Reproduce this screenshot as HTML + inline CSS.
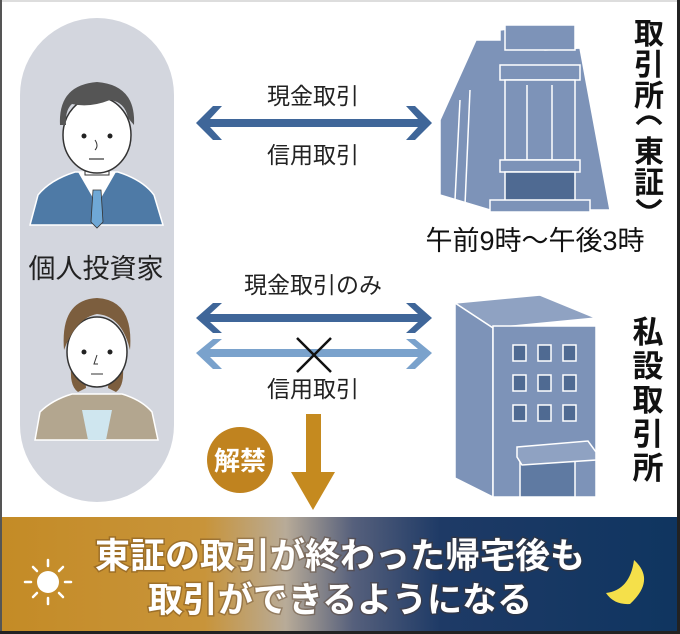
<!DOCTYPE html>
<html><head><meta charset="utf-8"><style>
html,body{margin:0;padding:0;background:#fff}
svg{display:block}
text{font-family:"Liberation Sans","Noto Sans CJK JP",sans-serif}
</style></head><body>
<svg width="680" height="634" viewBox="0 0 680 634" xmlns="http://www.w3.org/2000/svg">
<defs>
<linearGradient id="band" x1="0" x2="1" y1="0" y2="0">
<stop offset="0" stop-color="#c48b26"/>
<stop offset="0.3" stop-color="#c8943a"/>
<stop offset="0.42" stop-color="#b8ab98"/>
<stop offset="0.52" stop-color="#56607c"/>
<stop offset="0.65" stop-color="#1e3a66"/>
<stop offset="1" stop-color="#0f3560"/>
</linearGradient>
</defs>
<rect width="680" height="634" fill="#fff"/>
<rect x="0" y="0" width="680" height="2" fill="#ddd"/>
<rect x="0" y="0" width="2" height="634" fill="#555"/>
<rect x="677" y="0" width="3" height="634" fill="#222"/>
<rect x="20" y="18" width="154" height="484" rx="77" fill="#d3d6de"/>
<g>
<path d="M30 225 L38 195 Q50 180 75 172 L118 172 Q143 180 154 195 L163 225 Z" fill="#4e7aa6" stroke="#fff" stroke-width="1.5"/>
<path d="M78 172 L97 205 L116 172 Z" fill="#fff"/>
<path d="M93 190 L101 190 L103 222 L97 228 L91 222 Z" fill="#6fa8d6" stroke="#333" stroke-width="0.8"/>
<rect x="85" y="155" width="24" height="20" fill="#fff" stroke="#333"/>
<ellipse cx="97" cy="135" rx="34" ry="38" fill="#fff" stroke="#333" stroke-width="1.5"/>
<path d="M60 125 Q58 85 97 82 Q136 85 134 125 L128 118 Q125 102 110 100 Q90 108 72 104 Q65 110 66 125 Z" fill="#555"/>
<circle cx="84" cy="136" r="2.5" fill="#222"/><circle cx="110" cy="136" r="2.5" fill="#222"/>
<path d="M95 140 Q99 146 95 150" fill="none" stroke="#333"/>
<line x1="89" y1="159" x2="104" y2="159" stroke="#333" stroke-width="1.2"/>
</g>
<text x="96" y="278" font-size="27" text-anchor="middle" fill="#222">個人投資家</text>
<g>
<path d="M35 440 L40 412 Q52 400 72 394 L122 394 Q142 400 152 412 L158 440 Z" fill="#b3a68f" stroke="#fff" stroke-width="1.5"/>
<path d="M82 410 L112 410 L106 440 L88 440 Z" fill="#cfe6ef"/>
<path d="M72 360 Q68 385 78 392 L86 388 L84 360 Z M122 360 Q126 385 116 392 L108 388 L110 360 Z" fill="#7c5e3e"/>
<ellipse cx="97" cy="352" rx="30" ry="35" fill="#fff" stroke="#333" stroke-width="1.5"/>
<path d="M64 350 Q60 300 97 298 Q134 300 130 350 Q122 316 97 314 Q76 318 64 350 Z" fill="#7c5e3e"/>
<circle cx="84" cy="352" r="2.5" fill="#222"/><circle cx="110" cy="352" r="2.5" fill="#222"/>
<path d="M97 355 L94 364 L98 364" fill="none" stroke="#333"/>
<line x1="91" y1="374" x2="103" y2="374" stroke="#333"/>
</g>
<text x="313" y="104" font-size="23" text-anchor="middle" fill="#222">現金取引</text>
<path d="M196 123 L213 106 L222 106 L210 119 L418 119 L406 106 L415 106 L432 123 L415 140 L406 140 L418 127 L210 127 L222 140 L213 140 Z" fill="#3f6699"/>
<text x="313" y="163" font-size="23" text-anchor="middle" fill="#222">信用取引</text>
<text x="313" y="293" font-size="23" text-anchor="middle" fill="#222">現金取引のみ</text>
<path d="M196 318 L213 303 L222 303 L210 314 L418 314 L406 303 L415 303 L432 318 L415 333 L406 333 L418 322 L210 322 L222 333 L213 333 Z" fill="#3f6699"/>
<path d="M196 353 L213 339 L222 339 L210 349 L418 349 L406 339 L415 339 L432 353 L415 369 L406 369 L418 357 L210 357 L222 369 L213 369 Z" fill="#7aa2cc"/>
<path d="M297 338 L331 372 M331 338 L297 372" stroke="#111" stroke-width="2.5"/>
<text x="313" y="397" font-size="23" text-anchor="middle" fill="#222">信用取引</text>
<path d="M306 414 L321 414 L321 472 L335 472 L313 510 L291 472 L306 472 Z" fill="#c58a1f"/>
<circle cx="240" cy="460" r="33" fill="#c0831f"/>
<text x="240" y="470" font-size="26" font-weight="bold" text-anchor="middle" fill="#fff">解禁</text>
<g fill="#7d93b8" stroke="#fff" stroke-width="1.5">
<path d="M476 40 L500 40 L500 30 L540 25 L545 50 L580 48 L610 210 L490 210 L440 195 L440 120 Z"/>
<rect x="505" y="25" width="70" height="25"/>
<rect x="500" y="65" width="80" height="15"/>
<rect x="505" y="80" width="70" height="80"/>
<line x1="527" y1="85" x2="527" y2="160"/><line x1="552" y1="85" x2="552" y2="160"/>
<rect x="500" y="160" width="80" height="12"/>
<rect x="505" y="172" width="70" height="30" fill="#4f6a92"/>
<rect x="490" y="200" width="100" height="12"/>
<line x1="460" y1="100" x2="455" y2="200"/><line x1="470" y1="90" x2="465" y2="205"/>
</g>
<g font-size="30" font-weight="bold" fill="#111" text-anchor="middle">
<text x="649" y="44">取</text><text x="649" y="75">引</text><text x="649" y="106">所</text>
<text x="649" y="162">東</text><text x="649" y="193">証</text>
</g>
<path d="M637 124 Q649 110 661 124" fill="none" stroke="#111" stroke-width="3.5"/>
<path d="M637 200 Q649 214 661 200" fill="none" stroke="#111" stroke-width="3.5"/>
<text x="535" y="250" font-size="27" text-anchor="middle" fill="#111">午前9時～午後3時</text>
<g stroke="#fff" stroke-width="1.5">
<path d="M455 303 L540 295 L596 318 L493 328 Z" fill="#8fa2c2"/>
<path d="M455 303 L493 328 L493 497 L455 478 Z" fill="#7d93b8"/>
<rect x="493" y="326" width="103" height="171" fill="#7d93b8"/>
<g fill="#4f6a92">
<rect x="513" y="345" width="13" height="16"/><rect x="538" y="345" width="13" height="16"/><rect x="563" y="345" width="13" height="16"/>
<rect x="513" y="375" width="13" height="16"/><rect x="538" y="375" width="13" height="16"/><rect x="563" y="375" width="13" height="16"/>
<rect x="513" y="405" width="13" height="16"/><rect x="538" y="405" width="13" height="16"/><rect x="563" y="405" width="13" height="16"/>
</g>
<rect x="520" y="460" width="55" height="37" fill="#5f7aa2"/>
<path d="M517 447 L588 441 L596 452 L596 460 L522 465 L517 457 Z" fill="#8fa2c2"/>
</g>
<g font-size="31" font-weight="bold" fill="#111" text-anchor="middle">
<text x="648" y="343">私</text><text x="648" y="377">設</text><text x="648" y="411">取</text><text x="648" y="445">引</text><text x="648" y="479">所</text>
</g>
<rect x="2" y="517" width="675" height="114" fill="url(#band)"/>
<rect x="0" y="631" width="680" height="3" fill="#222"/>
<g stroke="#fff" stroke-width="2.5" stroke-linecap="round">
<line x1="48" y1="566" x2="48" y2="560"/><line x1="48" y1="598" x2="48" y2="604"/>
<line x1="25" y1="582" x2="31" y2="582"/><line x1="65" y1="582" x2="71" y2="582"/>
<line x1="33" y1="567" x2="37" y2="571"/><line x1="59" y1="593" x2="63" y2="597"/>
<line x1="63" y1="567" x2="59" y2="571"/><line x1="33" y1="597" x2="37" y2="593"/>
</g>
<circle cx="48" cy="582" r="11" fill="#fff"/>
<path d="M634 560 Q656 580 630 604 Q614 605 606 593 Q630 590 634 560 Z" fill="#f5e04a"/>
<g font-size="35" font-weight="bold" fill="#fff" text-anchor="middle" style="paint-order:stroke" stroke="rgba(80,50,20,0.35)" stroke-width="3">
<text x="340" y="568">東証の取引が終わった帰宅後も</text>
<text x="340" y="612">取引ができるようになる</text>
</g>
</svg>
</body></html>
